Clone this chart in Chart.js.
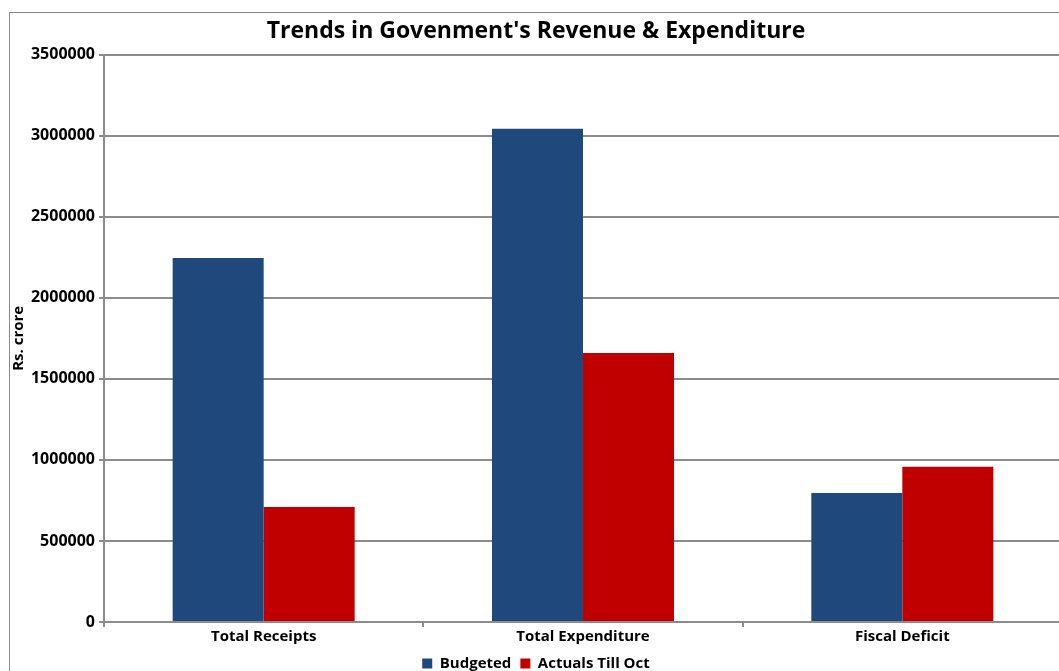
<!DOCTYPE html>
<html>
<head>
<meta charset="utf-8">
<script src="https://cdn.jsdelivr.net/npm/chart.js@4/dist/chart.umd.min.js"></script>
<style>
    html, body { margin: 0; padding: 0; background: #fff; overflow: hidden; }
    #frame {
        position: absolute;
        left: 9px;
        top: 12px;
        width: 1070px;
        height: 700px;
        border: 1px solid #8a8a8a;
        background: #fff;
    }
    #chart-box {
        position: absolute;
        left: 0;
        top: 0;
        width: 1052px;
        height: 668px;
    }
</style>
</head>
<body>
<div id="frame">
    <div id="chart-box"><canvas id="budgetChart"></canvas></div>
</div>
<script>
// Chart data
const categories = ['Total Receipts', 'Total Expenditure', 'Fiscal Deficit'];
const budgeted = [2246000, 3042000, 796000];
const actualsTillOct = [710000, 1660000, 957000];
const seriesNames = ['Budgeted', 'Actuals Till Oct'];
const yTicks = [0, 500000, 1000000, 1500000, 2000000, 2500000, 3000000, 3500000];

const FONT = '"Open Sans", "Liberation Sans", sans-serif';
const GRID = '#8c8c8c';

const ctx = document.getElementById('budgetChart').getContext('2d');
new Chart(ctx, {
    type: 'bar',
    data: {
        labels: categories,
        datasets: [
            {
                label: seriesNames[0],
                data: budgeted,
                backgroundColor: '#1F497D',
                barPercentage: 1,
                categoryPercentage: 0.57
            },
            {
                label: seriesNames[1],
                data: actualsTillOct,
                backgroundColor: '#C00000',
                barPercentage: 1,
                categoryPercentage: 0.57
            }
        ]
    },
    options: {
        responsive: true,
        maintainAspectRatio: false,
        animation: false,
        layout: { padding: { left: 0, right: 0, top: 0, bottom: 0 } },
        plugins: {
            title: {
                display: true,
                text: "Trends in Govenment's Revenue & Expenditure",
                color: '#000',
                font: { family: FONT, size: 23, weight: 'bold' },
                padding: { top: 5, bottom: 9 }
            },
            legend: {
                position: 'bottom',
                labels: {
                    color: '#000',
                    boxWidth: 10,
                    boxHeight: 10,
                    padding: 9,
                    font: { family: FONT, size: 15, weight: 'bold' }
                }
            },
            tooltip: { enabled: false }
        },
        scales: {
            x: {
                grid: {
                    drawOnChartArea: false,
                    drawTicks: true,
                    tickLength: 5,
                    color: GRID,
                    lineWidth: 2
                },
                border: { display: true, color: GRID, width: 2 },
                ticks: {
                    color: '#000',
                    padding: 1,
                    font: { family: FONT, size: 15, weight: 'bold' }
                }
            },
            y: {
                min: 0,
                max: 3500000,
                afterBuildTicks: (scale) => {
                    scale.ticks = yTicks.map(v => ({ value: v }));
                },
                afterFit: (scale) => {
                    scale.width = 94;
                },
                grid: {
                    color: GRID,
                    lineWidth: 2,
                    tickLength: 5
                },
                border: { display: true, color: GRID, width: 2 },
                ticks: {
                    color: '#000',
                    padding: 4,
                    font: { family: FONT, size: 16, weight: 'bold' },
                    callback: (value) => String(value)
                },
                title: {
                    display: true,
                    text: 'Rs. crore',
                    color: '#000',
                    padding: 0,
                    font: { family: FONT, size: 15, weight: 'bold' }
                }
            }
        }
    }
});
</script>
</body>
</html>
